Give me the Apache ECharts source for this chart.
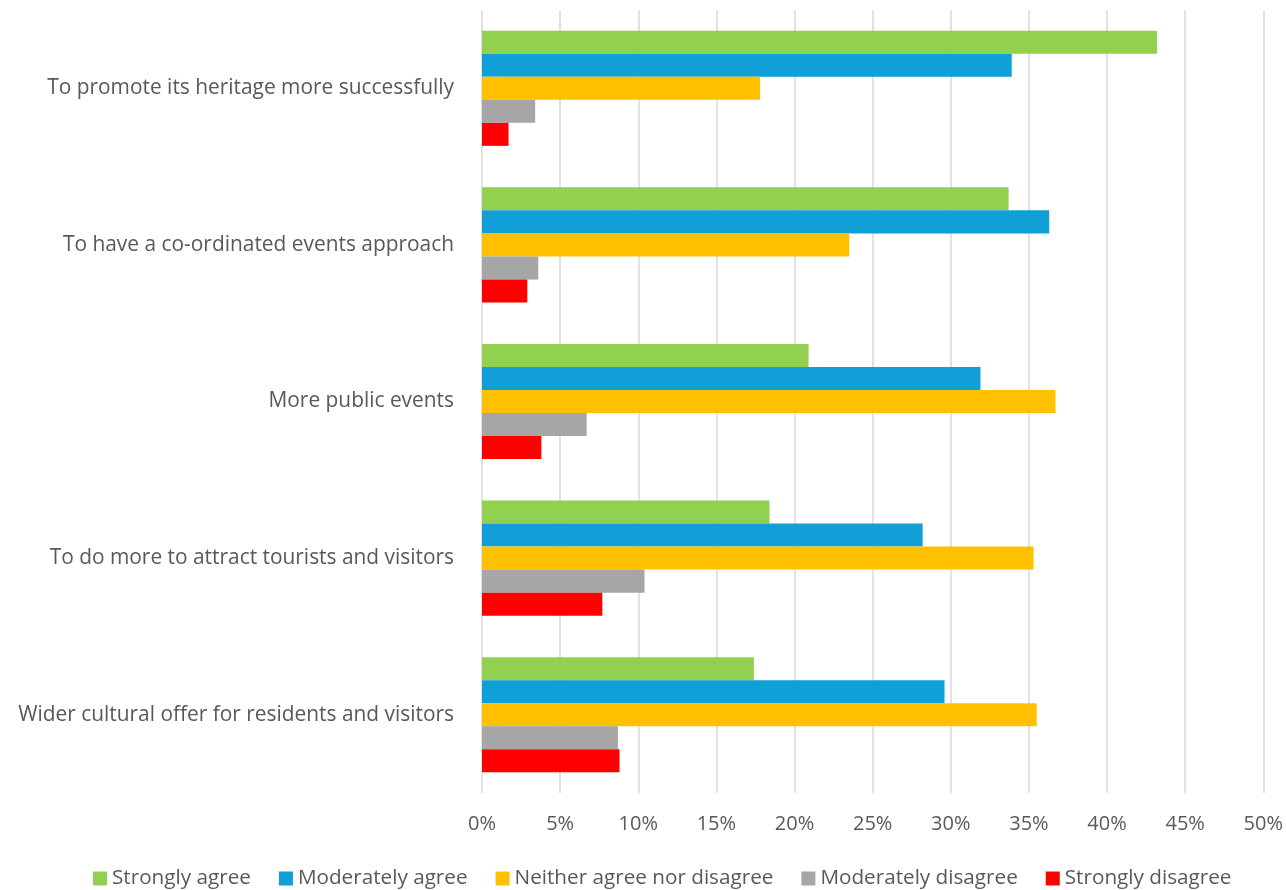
<!DOCTYPE html>
<html>
<head>
<meta charset="utf-8">
<script src="https://cdn.jsdelivr.net/npm/echarts@6/dist/echarts.min.js"></script>
<style>
html,body{margin:0;padding:0;background:#fff;}
#chart{width:1286px;height:890px;}
</style>
</head>
<body>
<div id="chart"></div>
<script>
const categories = [
  "To promote its heritage more successfully",
  "To have a co-ordinated events approach",
  "More public events",
  "To do more to attract tourists and visitors",
  "Wider cultural offer for residents and visitors"
];
const seriesNames = ["Strongly agree", "Moderately agree", "Neither agree nor disagree", "Moderately disagree", "Strongly disagree"];
const stronglyAgree = [43.2, 33.7, 20.9, 18.4, 17.4];
const moderatelyAgree = [33.9, 36.3, 31.9, 28.2, 29.6];
const neither = [17.8, 23.5, 36.7, 35.3, 35.5];
const moderatelyDisagree = [3.4, 3.6, 6.7, 10.4, 8.7];
const stronglyDisagree = [1.7, 2.9, 3.8, 7.7, 8.8];
const colors = ["#92D050", "#109FD6", "#FFC000", "#A6A6A6", "#FF0000"];

const dataSets = [stronglyAgree, moderatelyAgree, neither, moderatelyDisagree, stronglyDisagree];
const font = "'Open Sans', Lato, sans-serif";

const chart = echarts.init(document.getElementById('chart'));
chart.setOption({
  animation: false,
  backgroundColor: '#fff',
  color: colors,
  textStyle: { fontFamily: font },
  legend: {
    top: 863,
    left: 88,
    itemWidth: 14,
    itemHeight: 14,
    itemGap: 28,
    icon: 'rect',
    textStyle: { fontSize: 20.7, color: '#595959', fontFamily: font },
    data: seriesNames
  },
  grid: { left: 482, right: 22, top: 10, bottom: 97, containLabel: false },
  xAxis: {
    type: 'value',
    min: 0,
    max: 50,
    interval: 5,
    axisLine: { show: false },
    axisTick: { show: false },
    axisLabel: { formatter: '{value}%', fontSize: 20, color: '#595959', margin: 21, fontFamily: font },
    splitLine: { show: true, lineStyle: { color: '#D9D9D9', width: 1.5 } }
  },
  yAxis: {
    type: 'category',
    inverse: true,
    data: categories,
    axisLine: { show: false },
    axisTick: { show: false },
    axisLabel: { fontSize: 20.9, color: '#595959', margin: 28, fontFamily: font }
  },
  series: dataSets.map((d, i) => ({
    name: seriesNames[i],
    type: 'bar',
    data: d,
    barGap: '0%',
    barCategoryGap: '26.5%',
    itemStyle: { color: colors[i] }
  }))
});
</script>
</body>
</html>
